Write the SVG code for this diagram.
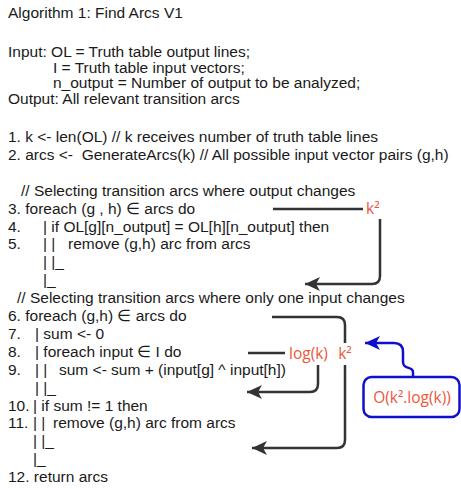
<svg xmlns="http://www.w3.org/2000/svg" width="461" height="489" viewBox="0 0 461 489">
<style>
.t{font-family:"Liberation Sans",Arial,sans-serif;font-size:15.5px;fill:#1a1a1a;white-space:pre}
.r{font-family:"Open Sans","Noto Sans",sans-serif;font-size:15.5px;fill:#f0553a}
.c{fill:none;stroke:#333;stroke-width:2.5}
.b{fill:none;stroke:#1010cc;stroke-width:2.5}
</style>
<defs>
<marker id="ah" markerUnits="userSpaceOnUse" markerWidth="16" markerHeight="14" refX="15" refY="7" orient="auto">
<path d="M0,0 L15,7 L0,14 L4,7 Z" fill="#333"/>
</marker>
<marker id="ahb" markerUnits="userSpaceOnUse" markerWidth="16" markerHeight="14" refX="15" refY="7" orient="auto">
<path d="M0,0 L15,7 L0,14 L4,7 Z" fill="#1010cc"/>
</marker>
</defs>
<rect width="461" height="489" fill="#fff"/>
<g id="algorithm">
<text class="t" x="8" y="17.5">Algorithm 1: Find Arcs V1</text>
<text class="t" x="8" y="57">Input: OL = Truth table output lines;</text>
<text class="t" x="53" y="72.5">I = Truth table input vectors;</text>
<text class="t" x="53" y="88">n_output = Number of output to be analyzed;</text>
<text class="t" x="8" y="103.5">Output: All relevant transition arcs</text>
<text class="t" x="8" y="142">1. k &lt;- len(OL) // k receives number of truth table lines</text>
<text class="t" x="8" y="160" xml:space="preserve">2. arcs &lt;-  GenerateArcs(k) // All possible input vector pairs (g,h)</text>
<text class="t" x="21" y="195.7">// Selecting transition arcs where output changes</text>
<text class="t" x="8" y="213.6">3. foreach (g , h) ∈ arcs do</text>
<text class="t" y="231.5"><tspan x="8">4.</tspan><tspan x="43">| if OL[g][n_output] = OL[h][n_output] then</tspan></text>
<text class="t" y="249.4"><tspan x="8">5.</tspan><tspan x="43">| |</tspan><tspan x="68">remove (g,h) arc from arcs</tspan></text>
<text class="t" x="43" y="267.3">| |_</text>
<text class="t" x="43" y="285.2">|_</text>
<text class="t" x="17" y="303.1">// Selecting transition arcs where only one input changes</text>
<text class="t" x="8" y="321">6. foreach (g,h) ∈ arcs do</text>
<text class="t" y="338.9"><tspan x="8">7.</tspan><tspan x="35">| sum &lt;- 0</tspan></text>
<text class="t" y="356.8"><tspan x="8">8.</tspan><tspan x="35">| foreach input ∈ I do</tspan></text>
<text class="t" y="374.7"><tspan x="8">9.</tspan><tspan x="35">| |</tspan><tspan x="59">sum &lt;- sum + (input[g] ^ input[h])</tspan></text>
<text class="t" x="35" y="392.6">| |_</text>
<text class="t" y="410.5"><tspan x="8">10.</tspan><tspan x="33">| if sum != 1 then</tspan></text>
<text class="t" y="428.4"><tspan x="8">11.</tspan><tspan x="33">| |</tspan><tspan x="53">remove (g,h) arc from arcs</tspan></text>
<text class="t" x="33" y="446.3">| |_</text>
<text class="t" x="33" y="464.2">|_</text>
<text class="t" x="8" y="482.1">12. return arcs</text>
</g>
<g id="connectors">
<path class="c" d="M273,209 H363"/>
<path class="c" d="M380,219 V276 Q380,284 372,284 H305" marker-end="url(#ah)"/>
<path class="c" d="M272,317 H337 Q345,317 345,325 V343"/>
<path class="c" d="M345,365 V440 Q345,448 337,448 H252" marker-end="url(#ah)"/>
<path class="c" d="M248,353 H285"/>
<path class="c" d="M318,365 V384 Q318,392 310,392 H247" marker-end="url(#ah)"/>
<path class="b" d="M413,377 V372 C413,366 403,370 403,362 V352 Q403,343 394,343 H365" marker-end="url(#ahb)"/>
</g>
<g id="label-k2-a"><text class="r" x="366" y="214">k²</text></g>
<g id="label-k2-b"><text class="r" x="345" y="358.5" text-anchor="middle">k²</text></g>
<g id="label-logk"><text class="r" x="289" y="358.5">log(k)</text></g>
<g id="complexity">
<rect class="b" x="363.5" y="377" width="96" height="40" rx="8"/>
<text class="r" x="412" y="403" text-anchor="middle">O(k².log(k))</text>
</g>
</svg>
